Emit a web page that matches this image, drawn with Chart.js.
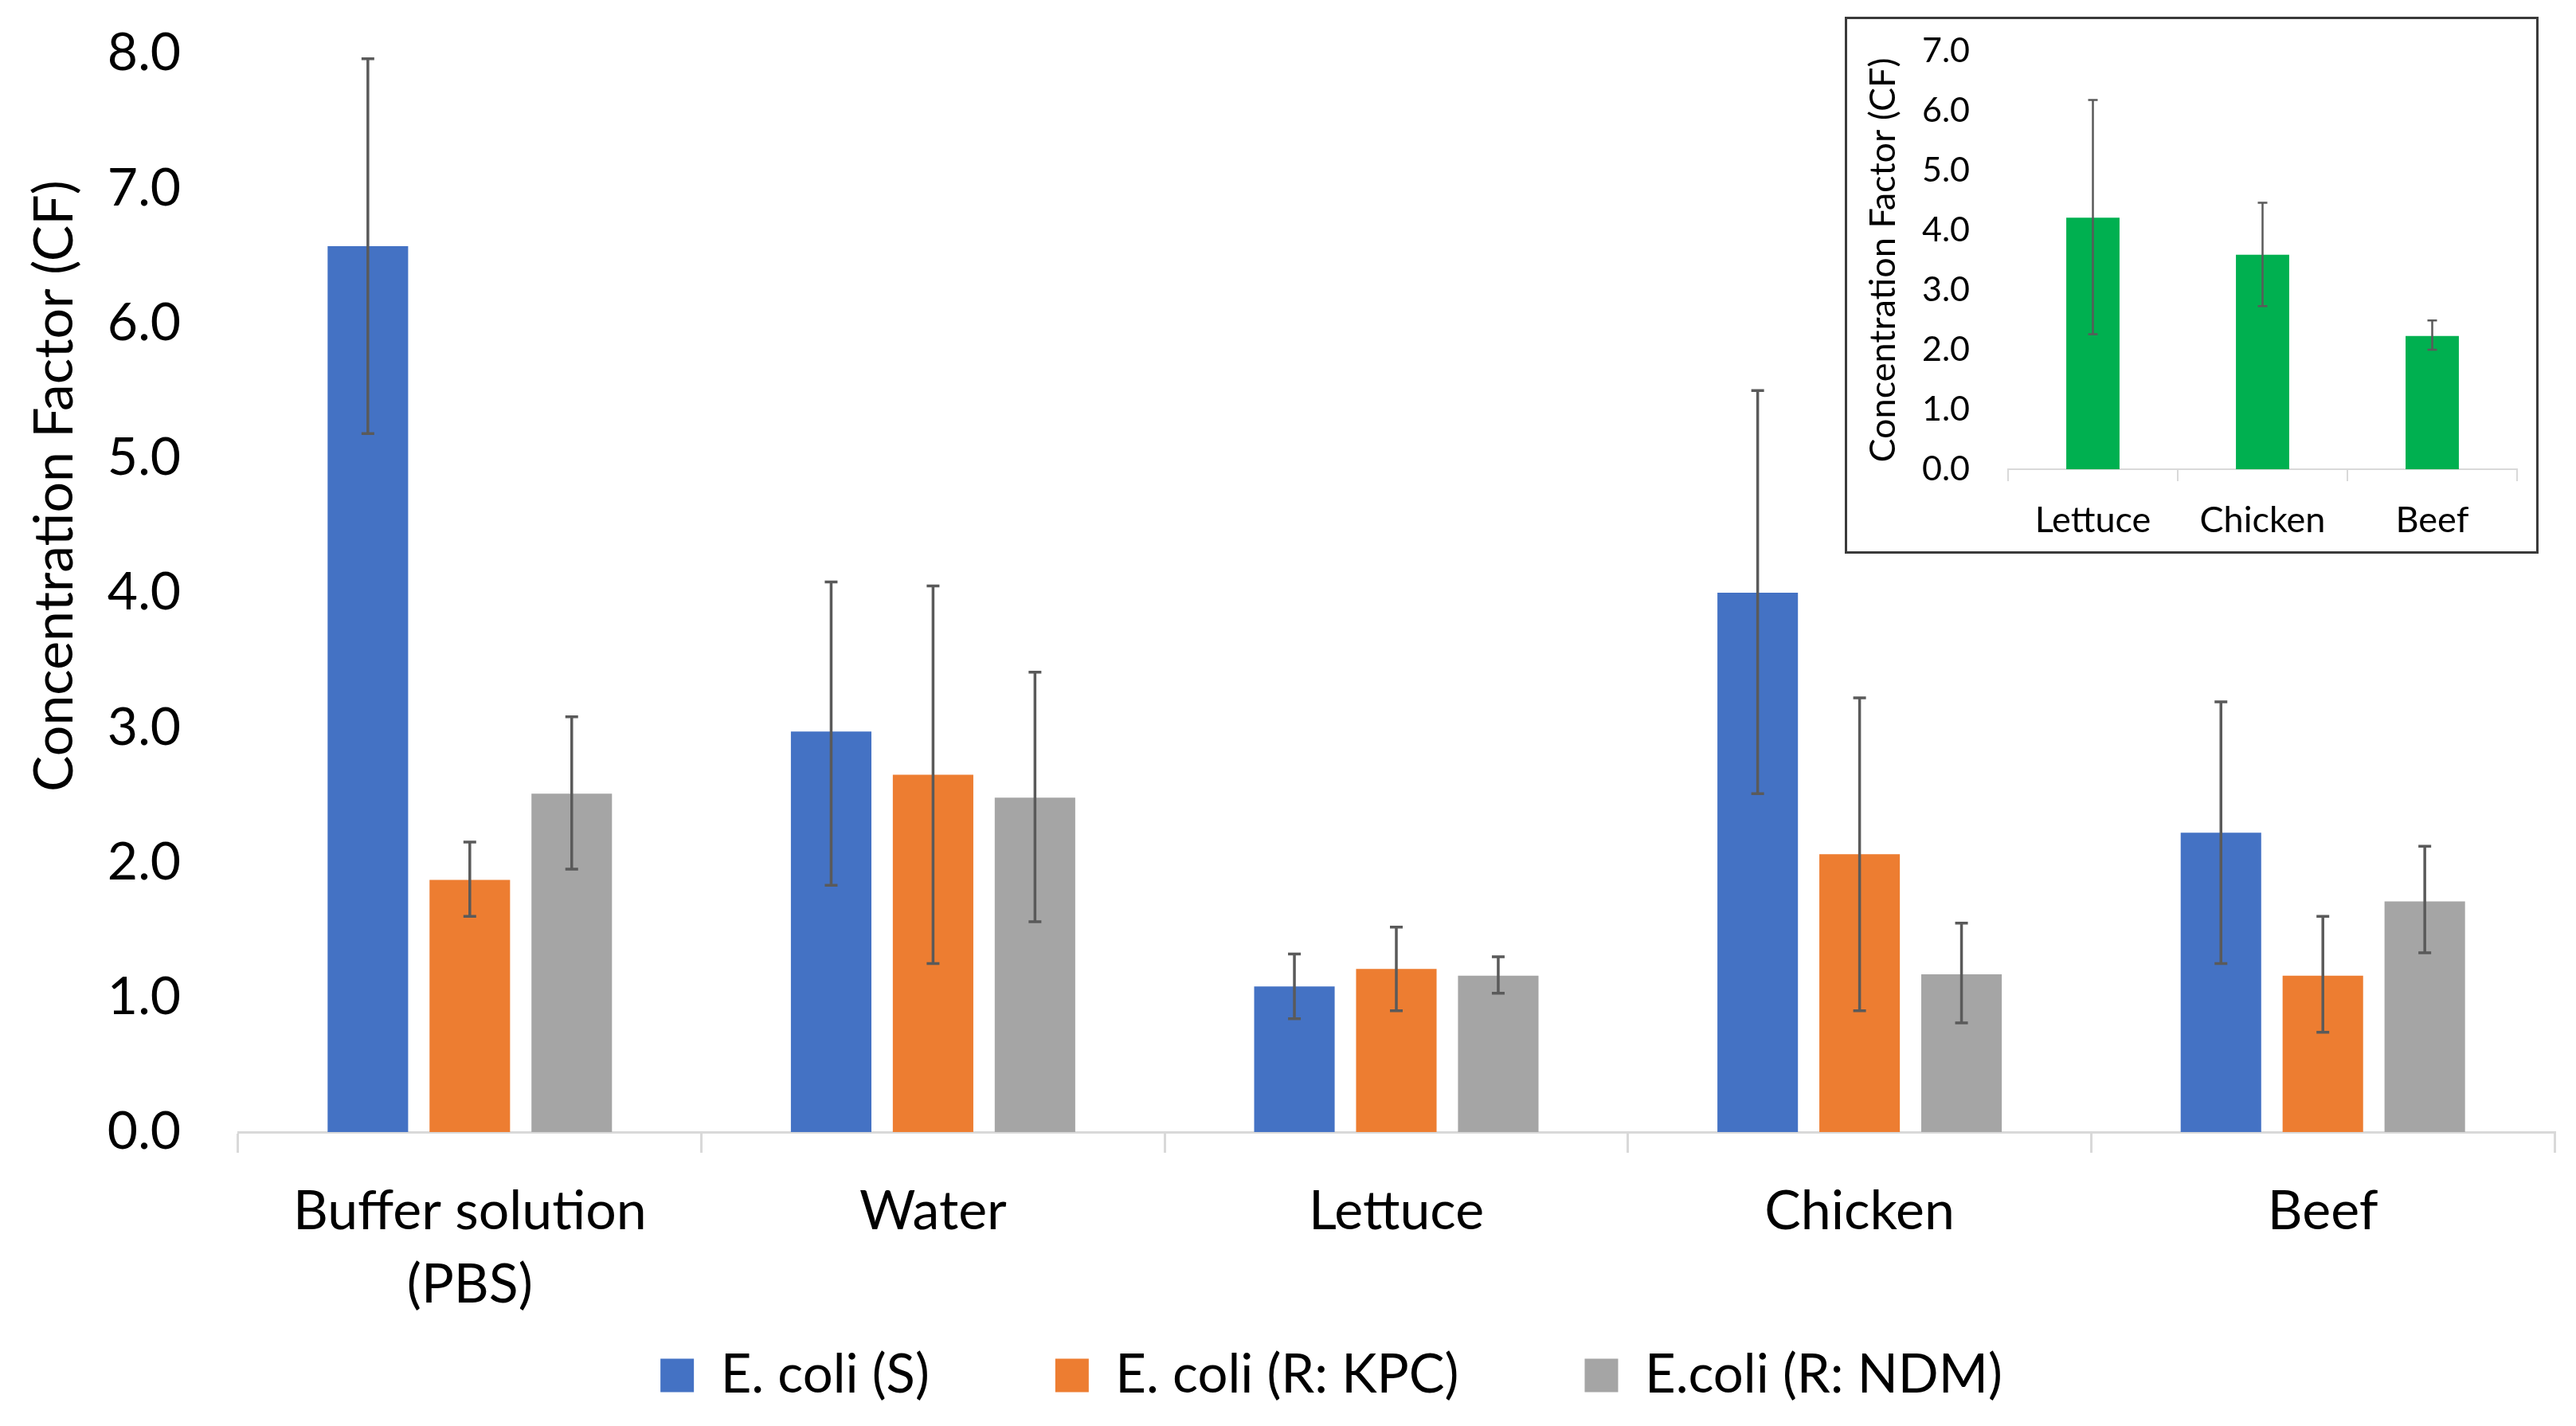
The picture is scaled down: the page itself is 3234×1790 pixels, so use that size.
<!DOCTYPE html>
<html><head><meta charset="utf-8">
<script src="https://cdn.jsdelivr.net/npm/chart.js@4"></script>
<style>
html,body{margin:0;padding:0;background:#fff;}
#wrap{position:relative;width:3234px;height:1790px;overflow:hidden;background:#fff;}
#main{position:absolute;left:0;top:0;width:3234px;height:1790px;}
#insetBox{position:absolute;left:2316px;top:21px;width:871px;height:674px;box-sizing:border-box;border:3px solid #3a3a3a;background:#fff;}
#inset{position:absolute;left:0;top:0;width:865px;height:668px;}
</style></head><body>
<div id="wrap">
<canvas id="main" width="3234" height="1790"></canvas>
<div id="insetBox"><canvas id="inset" width="865" height="668"></canvas></div>
</div>
<script>
// ---------- data ----------
const categories = [['Buffer solution', '(PBS)'], 'Water', 'Lettuce', 'Chicken', 'Beef'];
const seriesLabels = ['E. coli (S)', 'E. coli (R: KPC)', 'E.coli (R: NDM)'];
const valuesS      = [6.57, 2.97, 1.08, 4.00, 2.22];
const errHighS     = [7.96, 4.08, 1.32, 5.50, 3.19];
const errLowS      = [5.18, 1.83, 0.84, 2.51, 1.25];
const valuesKPC    = [1.87, 2.65, 1.21, 2.06, 1.16];
const errHighKPC   = [2.15, 4.05, 1.52, 3.22, 1.60];
const errLowKPC    = [1.60, 1.25, 0.90, 0.90, 0.74];
const valuesNDM    = [2.51, 2.48, 1.16, 1.17, 1.71];
const errHighNDM   = [3.08, 3.41, 1.30, 1.55, 2.12];
const errLowNDM    = [1.95, 1.56, 1.03, 0.81, 1.33];
const yTitleText   = 'Concentration Factor (CF)';
const yMin = 0, yMax = 8, yStep = 1;

const insetCategories = ['Lettuce', 'Chicken', 'Beef'];
const insetValues     = [4.21, 3.59, 2.23];
const insetErrHigh    = [6.18, 4.46, 2.49];
const insetErrLow     = [2.26, 2.73, 2.00];
const insetYMin = 0, insetYMax = 7, insetYStep = 1;

// ---------- styling ----------
const FONT = 'Lato';
const colS = '#4472c4', colKPC = '#ed7d31', colNDM = '#a5a5a5', colInset = '#00b050';
const axisGray = '#d9d9d9';
const errColor = '#5a5a5a';

const errorBarPlugin = {
  id: 'errorBars',
  afterDatasetsDraw(chart, args, opts) {
    const ctx = chart.ctx;
    const ys = chart.scales.y;
    chart.data.datasets.forEach((ds, di) => {
      const meta = chart.getDatasetMeta(di);
      if (meta.hidden) return;
      meta.data.forEach((bar, i) => {
        const hi = ys.getPixelForValue(ds.errHigh[i]);
        const lo = ys.getPixelForValue(ds.errLow[i]);
        ctx.save();
        ctx.strokeStyle = opts.color;
        ctx.lineWidth = opts.width;
        ctx.beginPath();
        ctx.moveTo(bar.x, hi); ctx.lineTo(bar.x, lo);
        ctx.moveTo(bar.x - opts.cap, hi); ctx.lineTo(bar.x + opts.cap, hi);
        ctx.moveTo(bar.x - opts.cap, lo); ctx.lineTo(bar.x + opts.cap, lo);
        ctx.stroke();
        ctx.restore();
      });
    });
  }
};

const sideTitlePlugin = {
  id: 'sideTitle',
  afterDraw(chart, args, opts) {
    const ctx = chart.ctx;
    ctx.save();
    ctx.translate(opts.x, opts.y);
    ctx.rotate(-Math.PI / 2);
    ctx.font = opts.size + 'px ' + FONT;
    ctx.fillStyle = opts.color;
    ctx.textAlign = 'center';
    ctx.textBaseline = 'middle';
    ctx.fillText(opts.text, 0, 0);
    ctx.restore();
  }
};

// shift the legend sideways and let the x labels use the space below the axis box
const layoutTweakPlugin = {
  id: 'layoutTweak',
  afterLayout(chart, args, opts) {
    if (chart.legend && opts.legendDx) {
      chart.legend.left += opts.legendDx;
      chart.legend.right += opts.legendDx;
    }
    if (opts.extendX) {
      chart.scales.x.bottom = chart.height;
    }
  }
};

new Chart(document.getElementById('main'), {
  type: 'bar',
  data: {
    labels: categories,
    datasets: [
      { label: seriesLabels[0], data: valuesS,   errHigh: errHighS,   errLow: errLowS,   backgroundColor: colS },
      { label: seriesLabels[1], data: valuesKPC, errHigh: errHighKPC, errLow: errLowKPC, backgroundColor: colKPC },
      { label: seriesLabels[2], data: valuesNDM, errHigh: errHighNDM, errLow: errLowNDM, backgroundColor: colNDM }
    ]
  },
  options: {
    responsive: false,
    animation: false,
    devicePixelRatio: 1,
    categoryPercentage: 0.66,
    barPercentage: 0.79,
    layout: { padding: { left: 0, right: 27, top: 67, bottom: 20 } },
    scales: {
      x: {
        grid: { display: true, offset: true, drawOnChartArea: false, drawTicks: true, tickLength: 26, color: axisGray, lineWidth: 3 },
        border: { display: true, color: axisGray, width: 3 },
        ticks: { color: '#000', padding: 29, font: { family: FONT, size: 68, lineHeight: 1.34 }, maxRotation: 0, autoSkip: false },
        afterFit(scale) { scale.height = 114; }
      },
      y: {
        min: yMin, max: yMax,
        grid: { display: false, drawTicks: false },
        border: { display: false },
        ticks: { stepSize: yStep, color: '#000', padding: 72, font: { family: FONT, size: 66 }, callback: v => Number(v).toFixed(1) },
        afterFit(scale) { scale.width = 299; scale.paddingTop = 0; scale.paddingBottom = 0; }
      }
    },
    plugins: {
      legend: {
        position: 'bottom',
        labels: { color: '#000', font: { family: FONT, size: 67 }, boxWidth: 42, boxHeight: 42, padding: 158 }
      },
      tooltip: { enabled: false },
      errorBars: { color: errColor, width: 3.5, cap: 8 },
      sideTitle: { text: yTitleText, x: 69, y: 610, size: 68, color: '#000' },
      layoutTweak: { legendDx: 68, extendX: true }
    }
  },
  plugins: [errorBarPlugin, sideTitlePlugin, layoutTweakPlugin]
});

new Chart(document.getElementById('inset'), {
  type: 'bar',
  data: {
    labels: insetCategories,
    datasets: [
      { label: 'CF', data: insetValues, errHigh: insetErrHigh, errLow: insetErrLow, backgroundColor: colInset }
    ]
  },
  options: {
    responsive: false,
    animation: false,
    devicePixelRatio: 1,
    categoryPercentage: 1.0,
    barPercentage: 0.314,
    layout: { padding: { left: 0, right: 24, top: 40, bottom: 0 } },
    scales: {
      x: {
        grid: { display: true, offset: true, drawOnChartArea: false, drawTicks: true, tickLength: 15, color: axisGray, lineWidth: 2 },
        border: { display: true, color: axisGray, width: 2 },
        ticks: { color: '#000', padding: 22, font: { family: FONT, size: 45 }, maxRotation: 0, autoSkip: false },
        afterFit(scale) { scale.height = 103; }
      },
      y: {
        min: insetYMin, max: insetYMax,
        grid: { display: false, drawTicks: false },
        border: { display: false },
        title: { display: true, text: yTitleText, color: '#000', font: { family: FONT, size: 45 }, padding: { top: 18, bottom: 0 } },
        ticks: { stepSize: insetYStep, color: '#000', padding: 48, font: { family: FONT, size: 43 }, callback: v => Number(v).toFixed(1) },
        afterFit(scale) { scale.width = 202; scale.paddingTop = 0; scale.paddingBottom = 0; }
      }
    },
    plugins: {
      legend: { display: false },
      tooltip: { enabled: false },
      errorBars: { color: errColor, width: 2.5, cap: 6 }
    }
  },
  plugins: [errorBarPlugin]
});
</script>
</body></html>
